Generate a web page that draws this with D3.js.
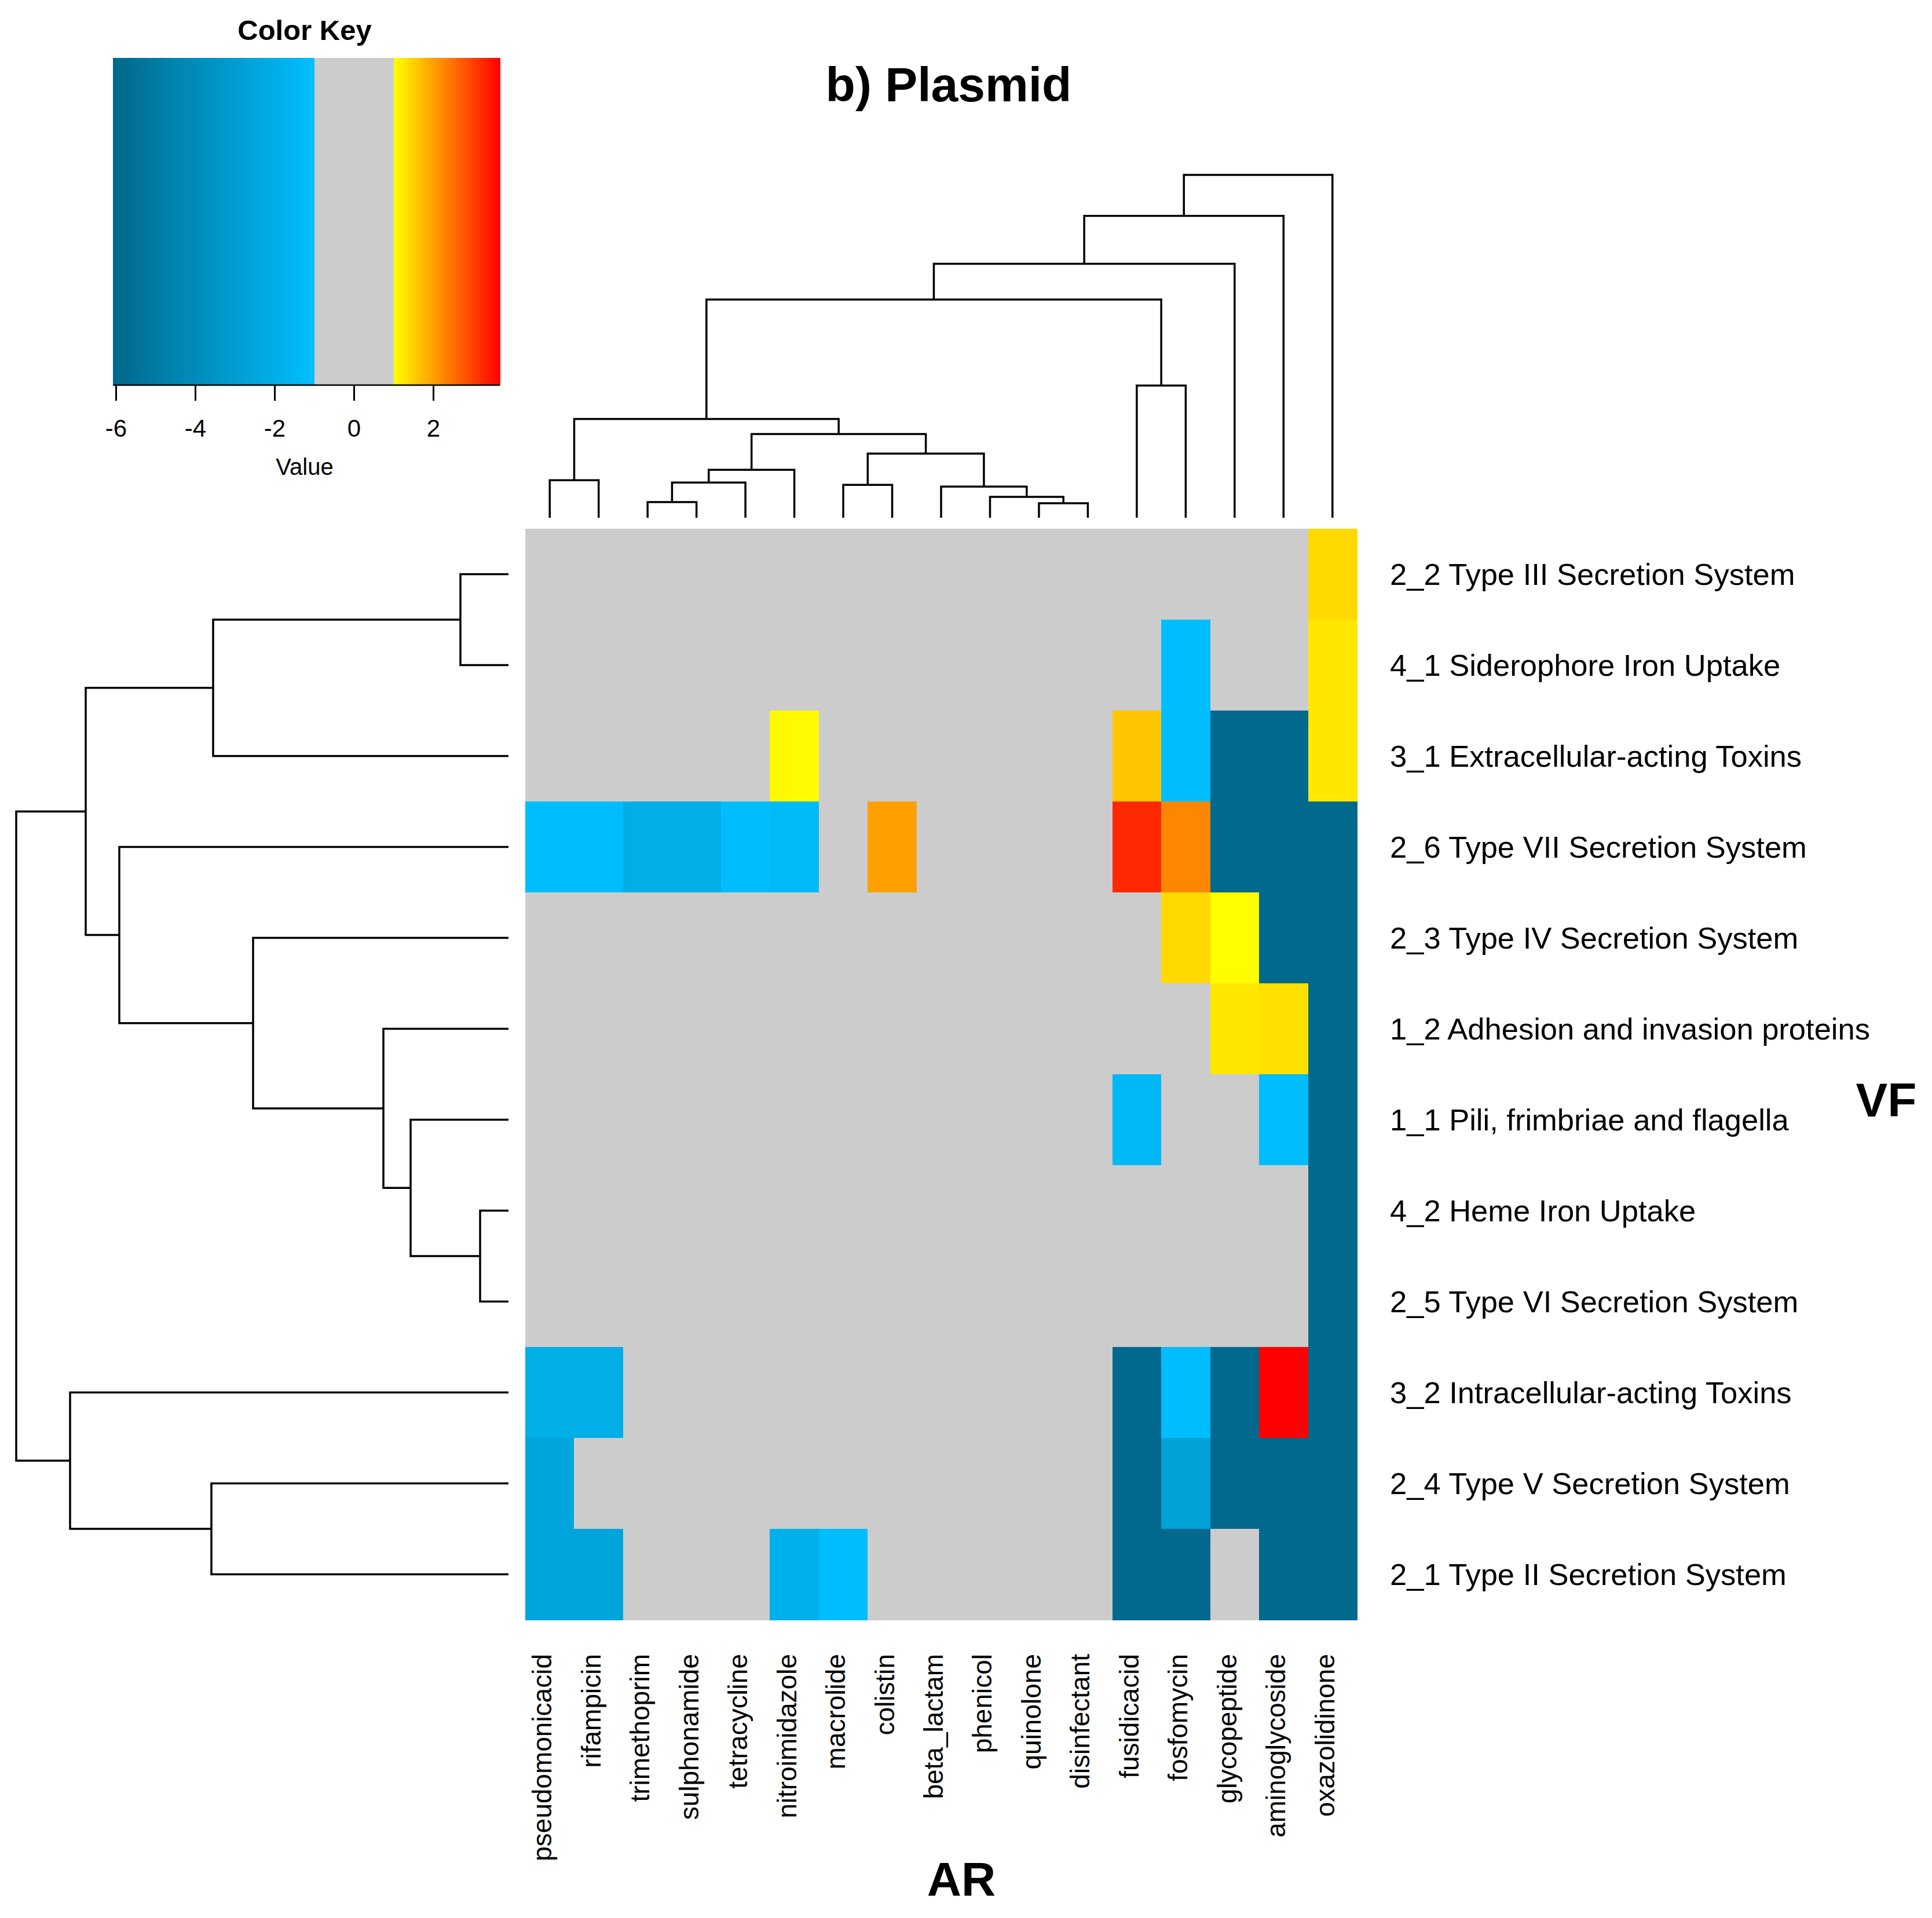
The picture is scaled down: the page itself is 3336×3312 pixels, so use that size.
<!DOCTYPE html>
<html>
<head>
<meta charset="utf-8">
<script src="https://cdn.jsdelivr.net/npm/d3@7"></script>
<style>
  html, body { margin: 0; padding: 0; background: #ffffff; }
  svg { display: block; font-family: "Liberation Sans", Arial, sans-serif; }
</style>
</head>
<body>
<div id="chart"></div>
<script>
// ---------------- DATA ----------------
const title = "b) Plasmid";
const colLabels = ["pseudomonicacid","rifampicin","trimethoprim","sulphonamide","tetracycline",
  "nitroimidazole","macrolide","colistin","beta_lactam","phenicol","quinolone","disinfectant",
  "fusidicacid","fosfomycin","glycopeptide","aminoglycoside","oxazolidinone"];
const rowLabels = ["2_2 Type III Secretion System","4_1 Siderophore Iron Uptake",
  "3_1 Extracellular-acting Toxins","2_6 Type VII Secretion System","2_3 Type IV Secretion System",
  "1_2 Adhesion and invasion proteins","1_1 Pili, frimbriae and flagella","4_2 Heme Iron Uptake",
  "2_5 Type VI Secretion System","3_2 Intracellular-acting Toxins","2_4 Type V Secretion System",
  "2_1 Type II Secretion System"];
// one array per row, values in column order
const row_2_2 = [0,0,0,0,0,0,0,0,0,0,0,0,0,0,0,0,1.4];
const row_4_1 = [0,0,0,0,0,0,0,0,0,0,0,0,0,-1.1,0,0,1.25];
const row_3_1 = [0,0,0,0,0,1.05,0,0,0,0,0,0,1.6,-1.1,-6,-6,1.25];
const row_2_6 = [-1.1,-1.1,-2,-2,-1.05,-1.3,0,2.0,0,0,0,0,3.25,2.26,-6,-6,-6];
const row_2_3 = [0,0,0,0,0,0,0,0,0,0,0,0,0,1.4,1.02,-6,-6];
const row_1_2 = [0,0,0,0,0,0,0,0,0,0,0,0,0,0,1.25,1.32,-6];
const row_1_1 = [0,0,0,0,0,0,0,0,0,0,0,0,-1.4,0,0,-1.1,-6];
const row_4_2 = [0,0,0,0,0,0,0,0,0,0,0,0,0,0,0,0,-6];
const row_2_5 = [0,0,0,0,0,0,0,0,0,0,0,0,0,0,0,0,-6];
const row_3_2 = [-2,-2,0,0,0,0,0,0,0,0,0,0,-6,-1.1,-6,3.7,-6];
const row_2_4 = [-2.5,0,0,0,0,0,0,0,0,0,0,0,-6,-2.7,-6,-6,-6];
const row_2_1 = [-2.5,-2.5,0,0,0,-1.9,-1.1,0,0,0,0,0,-6,-6,0,-6,-6];
const values = [row_2_2,row_4_1,row_3_1,row_2_6,row_2_3,row_1_2,row_1_1,row_4_2,row_2_5,row_3_2,row_2_4,row_2_1];

// hclust-style merges: negative = leaf index (1-based), positive = earlier merge; third = height
const colMerge = [
  [-1,-2,65],[-3,-4,27],[2,-5,61],[3,-6,83],[-7,-8,57],[-11,-12,25],[-10,6,36],[-9,7,54],
  [5,8,111],[4,9,145],[1,10,171],[-13,-14,229],[11,12,378],[13,-15,440],[14,-16,523],[15,-17,594]
];
const rowMerge = [
  [-1,-2,83],[1,-3,510],[-8,-9,49],[-7,3,169],[-6,4,216],[-5,5,441],[-4,6,672],[2,7,730],
  [-11,-12,513],[-10,9,757],[8,10,850]
];

const keyTicks = [-6,-4,-2,0,2];
const keyMin = -6.07, keyMax = 3.68;
const keyColors = ["#00688B","#00BFFF","#CCCCCC","#FFFF00","#FF0000"];

// ---------------- DRAW ----------------
const W = 3336, H = 3312;
const svg = d3.select("#chart").append("svg").attr("width", W).attr("height", H);
svg.append("rect").attr("width", W).attr("height", H).attr("fill", "#fff");

const blueScale = d3.scaleLinear().domain([keyMin, -1]).range([keyColors[0], keyColors[1]]);
const warmScale = d3.scaleLinear().domain([1, keyMax]).range([keyColors[3], keyColors[4]]).clamp(true);
const color = v => v < -1 ? blueScale(v) : (v > 1 ? warmScale(v) : keyColors[2]);

const x = d3.scaleBand().domain(colLabels).range([907, 2343]);
const y = d3.scaleBand().domain(rowLabels).range([913, 2797]);

// heatmap cells
const cells = [];
values.forEach((row, i) => row.forEach((v, j) => cells.push({r: rowLabels[i], c: colLabels[j], v})));
svg.append("g").selectAll("rect").data(cells).join("rect")
  .attr("x", d => x(d.c)).attr("y", d => y(d.r))
  .attr("width", x.bandwidth() + 0.5).attr("height", y.bandwidth() + 0.5)
  .attr("fill", d => color(d.v)).attr("shape-rendering", "crispEdges");

// dendrogram helper
function buildDendro(merge, leafPos) {
  const nodes = [];
  merge.forEach(m => {
    const get = idx => idx < 0 ? {pos: leafPos(-idx - 1), h: 0} : nodes[idx - 1];
    const a = get(m[0]), b = get(m[1]);
    nodes.push({pos: (a.pos + b.pos) / 2, h: m[2], a, b});
  });
  return nodes;
}
const lineStyle = g => g.attr("stroke", "#000").attr("stroke-width", 3.5).attr("fill", "none");

// column dendrogram
const colH = d3.scaleLinear().domain([0, d3.max(colMerge, d => d[2])]).range([894, 302]);
const colNodes = buildDendro(colMerge, i => x(colLabels[i]) + x.bandwidth() / 2);
const gc = svg.append("g").call(lineStyle);
colNodes.forEach(n => {
  gc.append("path").attr("d",
    `M${n.a.pos},${colH(n.a.h)}V${colH(n.h)}H${n.b.pos}V${colH(n.b.h)}`);
});

// row dendrogram
const rowH = d3.scaleLinear().domain([0, d3.max(rowMerge, d => d[2])]).range([878, 28]);
const rowNodes = buildDendro(rowMerge, i => y(rowLabels[i]) + y.bandwidth() / 2);
const gr = svg.append("g").call(lineStyle);
rowNodes.forEach(n => {
  gr.append("path").attr("d",
    `M${rowH(n.a.h)},${n.a.pos}H${rowH(n.h)}V${n.b.pos}H${rowH(n.b.h)}`);
});

// row labels
svg.append("g").selectAll("text").data(rowLabels).join("text")
  .attr("x", 2400).attr("y", d => y(d) + y.bandwidth() / 2)
  .attr("dominant-baseline", "central")
  .attr("font-size", 52.5).attr("fill", "#000").text(d => d);

// column labels
svg.append("g").selectAll("text").data(colLabels).join("text")
  .attr("transform", d => `translate(${x(d) + x.bandwidth() / 2 + 3},2856) rotate(-90)`)
  .attr("text-anchor", "end")
  .attr("font-size", 46).attr("fill", "#000").text(d => d);

// axis titles
svg.append("text").attr("x", 1660).attr("y", 3244).attr("text-anchor", "middle")
  .attr("dominant-baseline", "central").attr("font-weight", "bold").attr("font-size", 82).text("AR");
svg.append("text").attr("x", 3257).attr("y", 1899).attr("text-anchor", "middle")
  .attr("dominant-baseline", "central").attr("font-weight", "bold").attr("font-size", 82).text("VF");

// title
svg.append("text").attr("x", 1638).attr("y", 175).attr("text-anchor", "middle")
  .attr("font-weight", "bold").attr("font-size", 84).text(title);

// color key
const keyX = d3.scaleLinear().domain([-6, 2]).range([200, 748]);
const keyTop = 100, keyBottom = 665;
const steps = d3.range(0, 500).map(i => keyMin + (keyMax - keyMin) * (i + 0.5) / 500);
const stepW = (keyX(keyMax) - keyX(keyMin)) / 500;
svg.append("g").selectAll("rect").data(steps).join("rect")
  .attr("x", d => keyX(d) - stepW / 2).attr("y", keyTop)
  .attr("width", stepW + 0.6).attr("height", keyBottom - keyTop)
  .attr("fill", d => color(d)).attr("shape-rendering", "crispEdges");
svg.append("line").attr("x1", keyX(keyMin)).attr("x2", keyX(keyMax))
  .attr("y1", keyBottom).attr("y2", keyBottom).attr("stroke", "#000").attr("stroke-width", 2.5);
const keyAxis = svg.append("g").attr("transform", `translate(0,${keyBottom})`)
  .call(d3.axisBottom(keyX).tickValues(keyTicks).tickSize(27).tickPadding(32).tickFormat(d3.format("d")));
keyAxis.select(".domain").remove();
keyAxis.selectAll(".tick line").attr("stroke", "#000").attr("stroke-width", 3);
keyAxis.selectAll(".tick text").attr("font-size", 42).attr("fill", "#000")
  .attr("font-family", "Liberation Sans, Arial, sans-serif")
  .text(d => d < 0 ? "-" + Math.abs(d) : d);
svg.append("text").attr("x", 526).attr("y", 806).attr("text-anchor", "middle")
  .attr("dominant-baseline", "central").attr("font-size", 40).text("Value");
svg.append("text").attr("x", 526).attr("y", 52).attr("text-anchor", "middle")
  .attr("dominant-baseline", "central").attr("font-weight", "bold").attr("font-size", 49).text("Color Key");
</script>
</body>
</html>
